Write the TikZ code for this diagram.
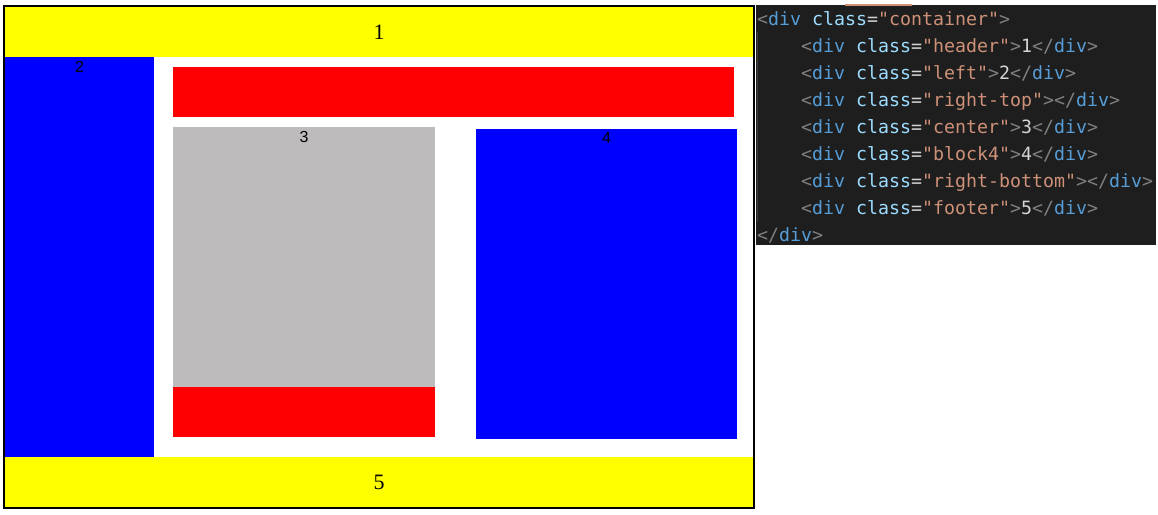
\documentclass[tikz,border=0pt]{standalone}
\usepackage{fontspec}
\setmainfont{Liberation Serif}
\setsansfont{Liberation Sans}
\setmonofont{DejaVu Sans Mono}
\usetikzlibrary{calc, positioning}

\definecolor{layYellow}{HTML}{FFFF00}
\definecolor{layBlue}{HTML}{0000FF}
\definecolor{layRed}{HTML}{FF0000}
\definecolor{layGray}{HTML}{BDBBBB}
\definecolor{codeBg}{HTML}{1E1E1E}
\definecolor{codeGray}{HTML}{808080}
\definecolor{codeTag}{HTML}{569CD6}
\definecolor{codeAttr}{HTML}{9CDCFE}
\definecolor{codeStr}{HTML}{CE9178}
\definecolor{codeText}{HTML}{D4D4D4}
\definecolor{codeGuide}{HTML}{404040}

% one line of markup: <div class="#1">#2</div>
\newcommand{\divline}[2]{\textcolor{codeGray}{<}\textcolor{codeTag}{div} \textcolor{codeAttr}{class}\textcolor{codeText}{=}\textcolor{codeStr}{"#1"}\textcolor{codeGray}{>}\textcolor{codeText}{#2}\textcolor{codeGray}{</}\textcolor{codeTag}{div}\textcolor{codeGray}{>}}

\begin{document}
\begin{tikzpicture}[x=1pt, y=-1pt]

% --- Styles ---
\tikzset{
    layBox/.style={anchor=north west, inner sep=0pt, outer sep=0pt, draw=none},
    bigNum/.style={font=\fontsize{22}{24}\selectfont},
    smallNum/.style={anchor=base, inner sep=0pt, font=\sffamily\fontsize{16}{18}\selectfont},
    codeLine/.style={anchor=base west, inner sep=0pt, font=\ttfamily\fontsize{18.27}{20}\selectfont},
}

\useasboundingbox (0,0) rectangle (1158,514);

% --- The page layout ---
\node[layBox, fill=layYellow, bigNum, minimum width=748pt, minimum height=50pt] (header) at (5,7) {1};
\node[layBox, fill=layBlue, minimum width=149pt, minimum height=400pt] (left) at (5,57) {};
\node[layBox, fill=layRed, minimum width=561pt, minimum height=50pt] (rtop) at (173,67) {};
\node[layBox, fill=layGray, minimum width=262pt, minimum height=260pt] (center) at (173,127) {};
\node[layBox, fill=layRed, minimum width=262pt, minimum height=50pt] (rbottom) at (173,387) {};
\node[layBox, fill=layBlue, minimum width=261pt, minimum height=310pt] (block) at (476,129) {};
\node[layBox, fill=layYellow, bigNum, minimum width=748pt, minimum height=50pt] (footer) at (5,457) {5};
\node[layBox, draw=black, line width=2pt, minimum width=750pt, minimum height=502pt] (container) at (4,6) {};

% small labels sit at the top of their boxes
\node[smallNum] (lbl2) at ($(left.north)+(0,15)$) {2};
\node[smallNum] (lbl3) at ($(center.north)+(0,15)$) {3};
\node[smallNum] (lbl4) at ($(block.north)+(0,14)$) {4};

% --- The markup panel ---
\node[layBox, fill=codeBg, minimum width=400pt, minimum height=240pt] (panel) at (756,5) {};
\draw[codeStr, line width=1.2pt] (845,5) -- (912,5);
\draw[codeGuide, line width=1pt] (757.5,32) -- (757.5,222);

\node[codeLine] (code0) at (757,25) {\textcolor{codeGray}{<}\textcolor{codeTag}{div} \textcolor{codeAttr}{class}\textcolor{codeText}{=}\textcolor{codeStr}{"container"}\textcolor{codeGray}{>}};
\foreach \cls/\txt [count=\i] in {header/1, left/2, right-top/{}, center/3, block4/4, right-bottom/{}, footer/5}
    \node[codeLine] (code\i) at (801,{25+27*\i}) {\divline{\cls}{\txt}};
\node[codeLine] (code8) at (757,241) {\textcolor{codeGray}{</}\textcolor{codeTag}{div}\textcolor{codeGray}{>}};

\end{tikzpicture}
\end{document}
